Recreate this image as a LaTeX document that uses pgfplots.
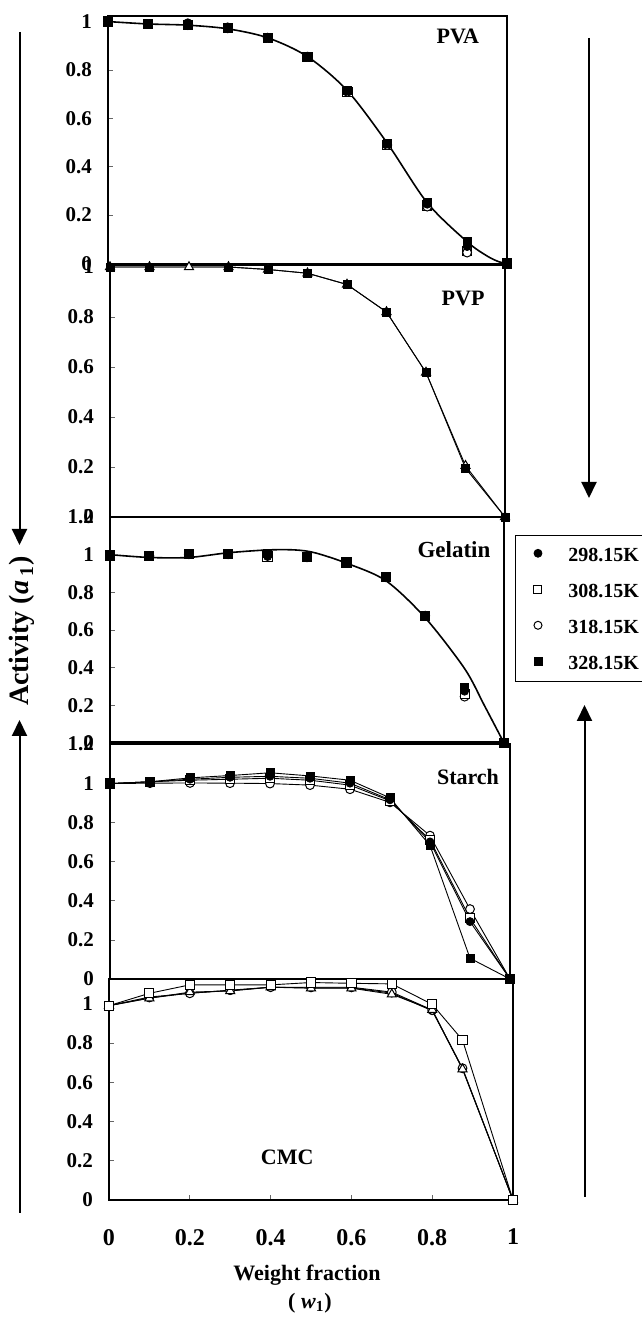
\documentclass[border=0pt]{standalone}
\usepackage{pgfplots}
\pgfplotsset{compat=1.18}
\usetikzlibrary{arrows.meta}
\usepackage{fontspec}
\setmainfont{Liberation Serif}

\tikzset{ttl/.style={font=\fontsize{11}{13}\selectfont\bfseries}}
\pgfplotsset{
  panel/.style={
    scale only axis, anchor=south west, clip=false,
    xmin=0, xmax=1, ymin=0,
    axis line style={line width=0.6pt},
    xtick=\empty,
    ytick pos=left, tick align=inside,
    major tick length=2.5pt,
    tick style={line width=0.3pt, black!60},
    /pgf/number format/assume math mode=true,
    yticklabel style={font=\fontsize{10.5}{12}\selectfont\bfseries, xshift=-4.5pt},
  },
  m298/.style={mark=*, mark size=2pt, mark options={solid, fill=black, draw=black, line width=0.4pt}},
  m308/.style={mark=square*, mark size=2.3pt, mark options={solid, fill=white, draw=black, line width=0.5pt}},
  m318/.style={mark=*, mark size=2.2pt, mark options={solid, fill=white, draw=black, line width=0.5pt}},
  m328/.style={mark=square*, mark size=2pt, mark options={solid, fill=black, draw=black, line width=0.4pt}},
  mtri/.style={mark=triangle*, mark size=2.6pt, mark options={solid, fill=white, draw=black, line width=0.5pt}},
  thinline/.style={line width=0.45pt, black},
}

\begin{document}
\begin{tikzpicture}
\useasboundingbox (0,0) rectangle (321pt,666.5pt);

% ---------------- PVA ----------------
\begin{axis}[panel, at={(54pt,534.75pt)}, width=199.5pt, height=123.75pt, ymax=1.023,
  ytick={0,0.2,0.4,0.6,0.8,1}]
\addplot[smooth, line width=0.8pt, black, no marks] coordinates {
(0,1.0) (0.1,0.99) (0.2,0.985) (0.3,0.97) (0.4,0.933) (0.5,0.855) (0.6,0.714)
(0.7,0.497) (0.8,0.251) (0.9,0.09) (0.95,0.031) (0.98,0.007) (1,0)};
\addplot[only marks, m308] coordinates {
(0,1.0) (0.1,0.99) (0.2,0.985) (0.3,0.972) (0.4,0.933) (0.5,0.855) (0.6,0.71) (0.7,0.49) (0.8,0.24) (0.9,0.05) (1,0)};
\addplot[only marks, m318] coordinates {
(0,1.0) (0.1,0.99) (0.2,0.985) (0.3,0.972) (0.4,0.933) (0.5,0.855) (0.6,0.71) (0.7,0.49) (0.8,0.235) (0.9,0.045) (1,0)};
\addplot[only marks, m298] coordinates {
(0,1.0) (0.1,0.99) (0.2,0.995) (0.3,0.978) (0.4,0.935) (0.5,0.855) (0.6,0.714) (0.7,0.495) (0.8,0.245) (0.9,0.07) (1,0)};
\addplot[only marks, m328] coordinates {
(0,1.0) (0.1,0.99) (0.2,0.985) (0.3,0.972) (0.4,0.933) (0.5,0.855) (0.6,0.714) (0.7,0.497) (0.8,0.251) (0.9,0.09) (1,0)};
\node[ttl] at (rel axis cs:0.877,0.919) {PVA};
\end{axis}

% ---------------- PVP ----------------
\begin{axis}[panel, at={(55pt,408pt)}, width=197.5pt, height=126pt, ymax=1.008,
  ytick={0,0.2,0.4,0.6,0.8,1}]
\addplot[thinline, mtri] coordinates {
(0,1.0) (0.1,1.0) (0.2,1.0) (0.3,1.0) (0.4,0.99) (0.5,0.975) (0.6,0.93) (0.7,0.82) (0.8,0.578) (0.9,0.205) (1,0)};
\addplot[thinline, m328] coordinates {
(0,1.0) (0.1,1.0) (0.3,1.0) (0.4,0.99) (0.5,0.975) (0.6,0.93) (0.7,0.82) (0.8,0.578) (0.9,0.195) (1,0)};
\node[ttl] at (rel axis cs:0.894,0.869) {PVP};
\end{axis}

% ---------------- Gelatin ----------------
\begin{axis}[panel, at={(55pt,295pt)}, width=197pt, height=113pt, ymax=1.2,
  ytick={0,0.2,0.4,0.6,0.8,1,1.2},
  legend style={at={(1.0279,0.9204)}, anchor=north west, draw=black, line width=0.5pt,
    font=\fontsize{10}{12}\selectfont\bfseries, inner xsep=4pt, inner ysep=4pt,
    row sep=7pt, column sep=10pt,
    nodes={inner sep=2pt, text height=7pt, text depth=0pt}},
  legend cell align=left,
  legend image code/.code={\path (0pt,0pt) (10pt,0pt); \path[#1] plot coordinates {(7pt,0.6pt)};}]
\addplot[smooth, line width=0.8pt, black, no marks, forget plot] coordinates {
(0,1.0) (0.1,0.985) (0.2,0.985) (0.3,1.01) (0.4,1.025) (0.47,1.025) (0.52,1.01) (0.6,0.955)
(0.7,0.862) (0.8,0.665) (0.9,0.395) (0.95,0.2) (1,0)};
\addplot[only marks, m318, forget plot] coordinates {
(0,0.995) (0.1,0.993) (0.2,1.002) (0.3,1.002) (0.4,0.99) (0.5,0.986) (0.6,0.958) (0.7,0.88) (0.8,0.676) (0.9,0.246) (1,0)};
\addplot[only marks, m308, forget plot] coordinates {
(0,0.995) (0.1,0.993) (0.2,1.002) (0.3,1.002) (0.4,0.99) (0.5,0.986) (0.6,0.958) (0.7,0.88) (0.8,0.676) (0.9,0.262) (1,0)};
\addplot[only marks, m298, forget plot] coordinates {
(0,0.995) (0.1,0.993) (0.2,1.002) (0.3,1.002) (0.4,0.99) (0.5,0.986) (0.6,0.958) (0.7,0.88) (0.8,0.676) (0.9,0.275) (1,0)};
\addplot[only marks, m328, forget plot] coordinates {
(0,0.995) (0.1,0.993) (0.2,1.002) (0.3,1.002) (0.4,1.007) (0.5,0.986) (0.6,0.958) (0.7,0.88) (0.8,0.676) (0.9,0.294) (1,0)};
\addlegendimage{only marks, m298}\addlegendentry{298.15K}
\addlegendimage{only marks, m308, mark size=2pt}\addlegendentry{308.15K}
\addlegendimage{only marks, m318, mark size=2pt}\addlegendentry{318.15K}
\addlegendimage{only marks, m328}\addlegendentry{328.15K}
\node[ttl, font=\fontsize{11.5}{13}\selectfont\bfseries] at (rel axis cs:0.873,0.854) {Gelatin};
\draw[line width=1.5pt] (rel axis cs:0,0) -- (rel axis cs:1,0);
\end{axis}

% ---------------- Starch ----------------
\begin{axis}[panel, at={(55pt,177pt)}, width=200pt, height=117.5pt, ymax=1.2,
  ytick={0,0.2,0.4,0.6,0.8,1,1.2}]
\addplot[thinline, m318] coordinates {
(0,0.998) (0.1,1.0) (0.2,1.001) (0.3,1.0) (0.4,0.998) (0.5,0.99) (0.6,0.969) (0.7,0.902) (0.8,0.732) (0.9,0.357) (1,0)};
\addplot[thinline, m308] coordinates {
(0,0.998) (0.1,1.007) (0.2,1.015) (0.3,1.02) (0.4,1.025) (0.5,1.015) (0.6,0.99) (0.7,0.91) (0.8,0.71) (0.9,0.31) (1,0)};
\addplot[thinline, m298] coordinates {
(0,0.998) (0.1,1.007) (0.2,1.02) (0.3,1.03) (0.4,1.035) (0.5,1.025) (0.6,1.0) (0.7,0.915) (0.8,0.70) (0.9,0.293) (1,0)};
\addplot[thinline, m328] coordinates {
(0,0.998) (0.1,1.007) (0.2,1.027) (0.3,1.039) (0.4,1.053) (0.5,1.037) (0.6,1.015) (0.7,0.925) (0.8,0.682) (0.9,0.106) (1,0)};
\node[ttl] at (rel axis cs:0.895,0.86) {Starch};
\draw[line width=1.1pt] (rel axis cs:0,0) -- (rel axis cs:1,0);
\end{axis}

% ---------------- CMC ----------------
\begin{axis}[panel, at={(54.5pt,66.5pt)}, width=202pt, height=110.5pt, ymax=1.127,
  ytick={0,0.2,0.4,0.6,0.8,1},
  xtick={0,0.2,0.4,0.6,0.8,1}, xticklabels={0,0.2,0.4,0.6,0.8,1},
  xtick pos=bottom,
  xticklabel style={font=\fontsize{12}{14}\selectfont\bfseries, yshift=-11pt}]
\addplot[thinline, m298] coordinates {
(0,0.991) (0.1,1.03) (0.2,1.055) (0.3,1.068) (0.4,1.085) (0.5,1.082) (0.6,1.082) (0.7,1.055) (0.8,0.965) (0.875,0.67) (1,0)};
\addplot[thinline, m318] coordinates {
(0,0.991) (0.1,1.035) (0.2,1.054) (0.3,1.07) (0.4,1.085) (0.5,1.085) (0.6,1.085) (0.7,1.06) (0.8,0.969) (0.875,0.672) (1,0)};
\addplot[thinline, mtri] coordinates {
(0,0.991) (0.1,1.029) (0.2,1.06) (0.3,1.066) (0.4,1.085) (0.5,1.08) (0.6,1.08) (0.7,1.049) (0.8,0.97) (0.875,0.667) (1,0)};
\addplot[thinline, m308] coordinates {
(0,0.991) (0.1,1.054) (0.2,1.097) (0.3,1.097) (0.4,1.097) (0.5,1.109) (0.6,1.105) (0.7,1.102) (0.8,0.998) (0.875,0.816) (1,0)};
\node[ttl] at (rel axis cs:0.441,0.195) {CMC};
\draw[line width=1.1pt] (rel axis cs:1,0) -- (rel axis cs:1,1);
\end{axis}

% ---------------- outer labels and arrows ----------------
\node[font=\fontsize{14}{16}\selectfont\bfseries, rotate=90] at (11pt,351pt)
  {Activity (\textit{a}\,\textsubscript{1})};
\draw[line width=1pt, -{Triangle[length=8pt,width=7.5pt]}] (9.75pt,650.5pt) -- (9.75pt,394pt);
\draw[line width=1pt, -{Triangle[length=8pt,width=7.5pt]}] (9.75pt,60pt) -- (9.75pt,306.5pt);
\draw[line width=1pt, -{Triangle[length=8pt,width=7.5pt]}] (294.5pt,647.5pt) -- (294.5pt,417.5pt);
\draw[line width=1pt, -{Triangle[length=8pt,width=7.5pt]}] (292.25pt,68pt) -- (292.25pt,314pt);
\node[font=\fontsize{11}{13}\selectfont\bfseries] at (153.5pt,29pt) {Weight fraction};
\node[font=\fontsize{11}{13}\selectfont\bfseries] at (155pt,15pt) {( \textit{w}\textsubscript{1})};
\end{tikzpicture}
\end{document}
